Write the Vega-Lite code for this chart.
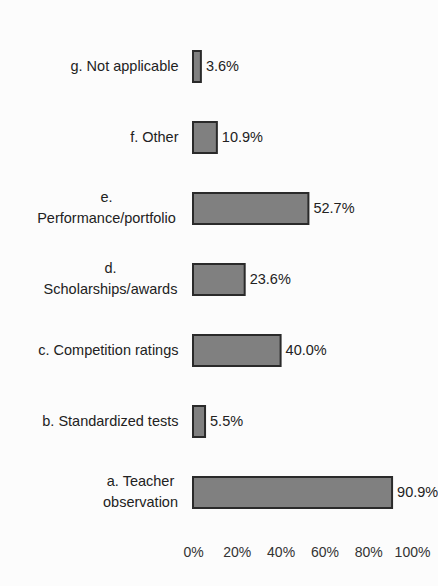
{
  "$schema": "https://vega.github.io/schema/vega-lite/v6.json",
  "autosize": "none",
  "width": 219,
  "height": 497,
  "padding": {"left": 193, "top": 31, "right": 26, "bottom": 58},
  "background": "#fcfcfc",
  "config": {
    "view": {"stroke": null},
    "font": "Liberation Sans"
  },
  "data": {
    "values": [
      {"category": "g. Not applicable", "value": 0.036},
      {"category": "f. Other", "value": 0.109},
      {"category": "e. Performance/portfolio", "value": 0.527},
      {"category": "d. Scholarships/awards", "value": 0.236},
      {"category": "c. Competition ratings", "value": 0.400},
      {"category": "b. Standardized tests", "value": 0.055},
      {"category": "a. Teacher observation", "value": 0.909}
    ]
  },
  "encoding": {
    "y": {
      "field": "category",
      "type": "nominal",
      "sort": ["g. Not applicable", "f. Other", "e. Performance/portfolio", "d. Scholarships/awards", "c. Competition ratings", "b. Standardized tests", "a. Teacher observation"],
      "scale": {"paddingInner": 0.56, "paddingOuter": 0.28},
      "axis": {
        "title": null,
        "domain": false,
        "ticks": false,
        "labelFontSize": 14.5,
        "labelColor": "#222222",
        "labelFont": "Liberation Sans",
        "labelLimit": 300,
        "labelLineHeight": 21,
        "labelBaseline": "middle",
        "labelExpr": "datum.value == 'e. Performance/portfolio' ? ['e.', 'Performance/portfolio'] : datum.value == 'd. Scholarships/awards' ? ['d.', 'Scholarships/awards'] : datum.value == 'a. Teacher observation' ? ['a. Teacher', 'observation'] : datum.value",
        "labelAlign": {
          "condition": {"test": "indexof(['e. Performance/portfolio', 'd. Scholarships/awards', 'a. Teacher observation'], datum.value) >= 0", "value": "center"},
          "value": "right"
        },
        "labelOffset": {
          "condition": {"test": "indexof(['e. Performance/portfolio', 'd. Scholarships/awards', 'a. Teacher observation'], datum.value) >= 0", "value": -11},
          "value": 0
        },
        "labelPadding": {
          "condition": [
            {"test": "datum.value == 'e. Performance/portfolio'", "value": 87},
            {"test": "datum.value == 'd. Scholarships/awards'", "value": 83},
            {"test": "datum.value == 'a. Teacher observation'", "value": 53}
          ],
          "value": 15
        }
      }
    },
    "x": {
      "field": "value",
      "type": "quantitative",
      "scale": {"domain": [0, 1], "nice": false},
      "axis": {
        "title": null,
        "domain": false,
        "ticks": false,
        "grid": false,
        "format": ".0%",
        "values": [0, 0.2, 0.4, 0.6, 0.8, 1],
        "labelFontSize": 14,
        "labelColor": "#333333",
        "labelPadding": 17,
        "labelFlush": false
      }
    }
  },
  "layer": [
    {
      "mark": {"type": "bar", "fill": "#808080", "stroke": "#2a2a2a", "strokeWidth": 2}
    },
    {
      "mark": {"type": "text", "align": "left", "baseline": "middle", "dx": 5, "fontSize": 14.5, "fill": "#222222"},
      "encoding": {
        "text": {"field": "value", "type": "quantitative", "format": ".1%"}
      }
    }
  ]
}
